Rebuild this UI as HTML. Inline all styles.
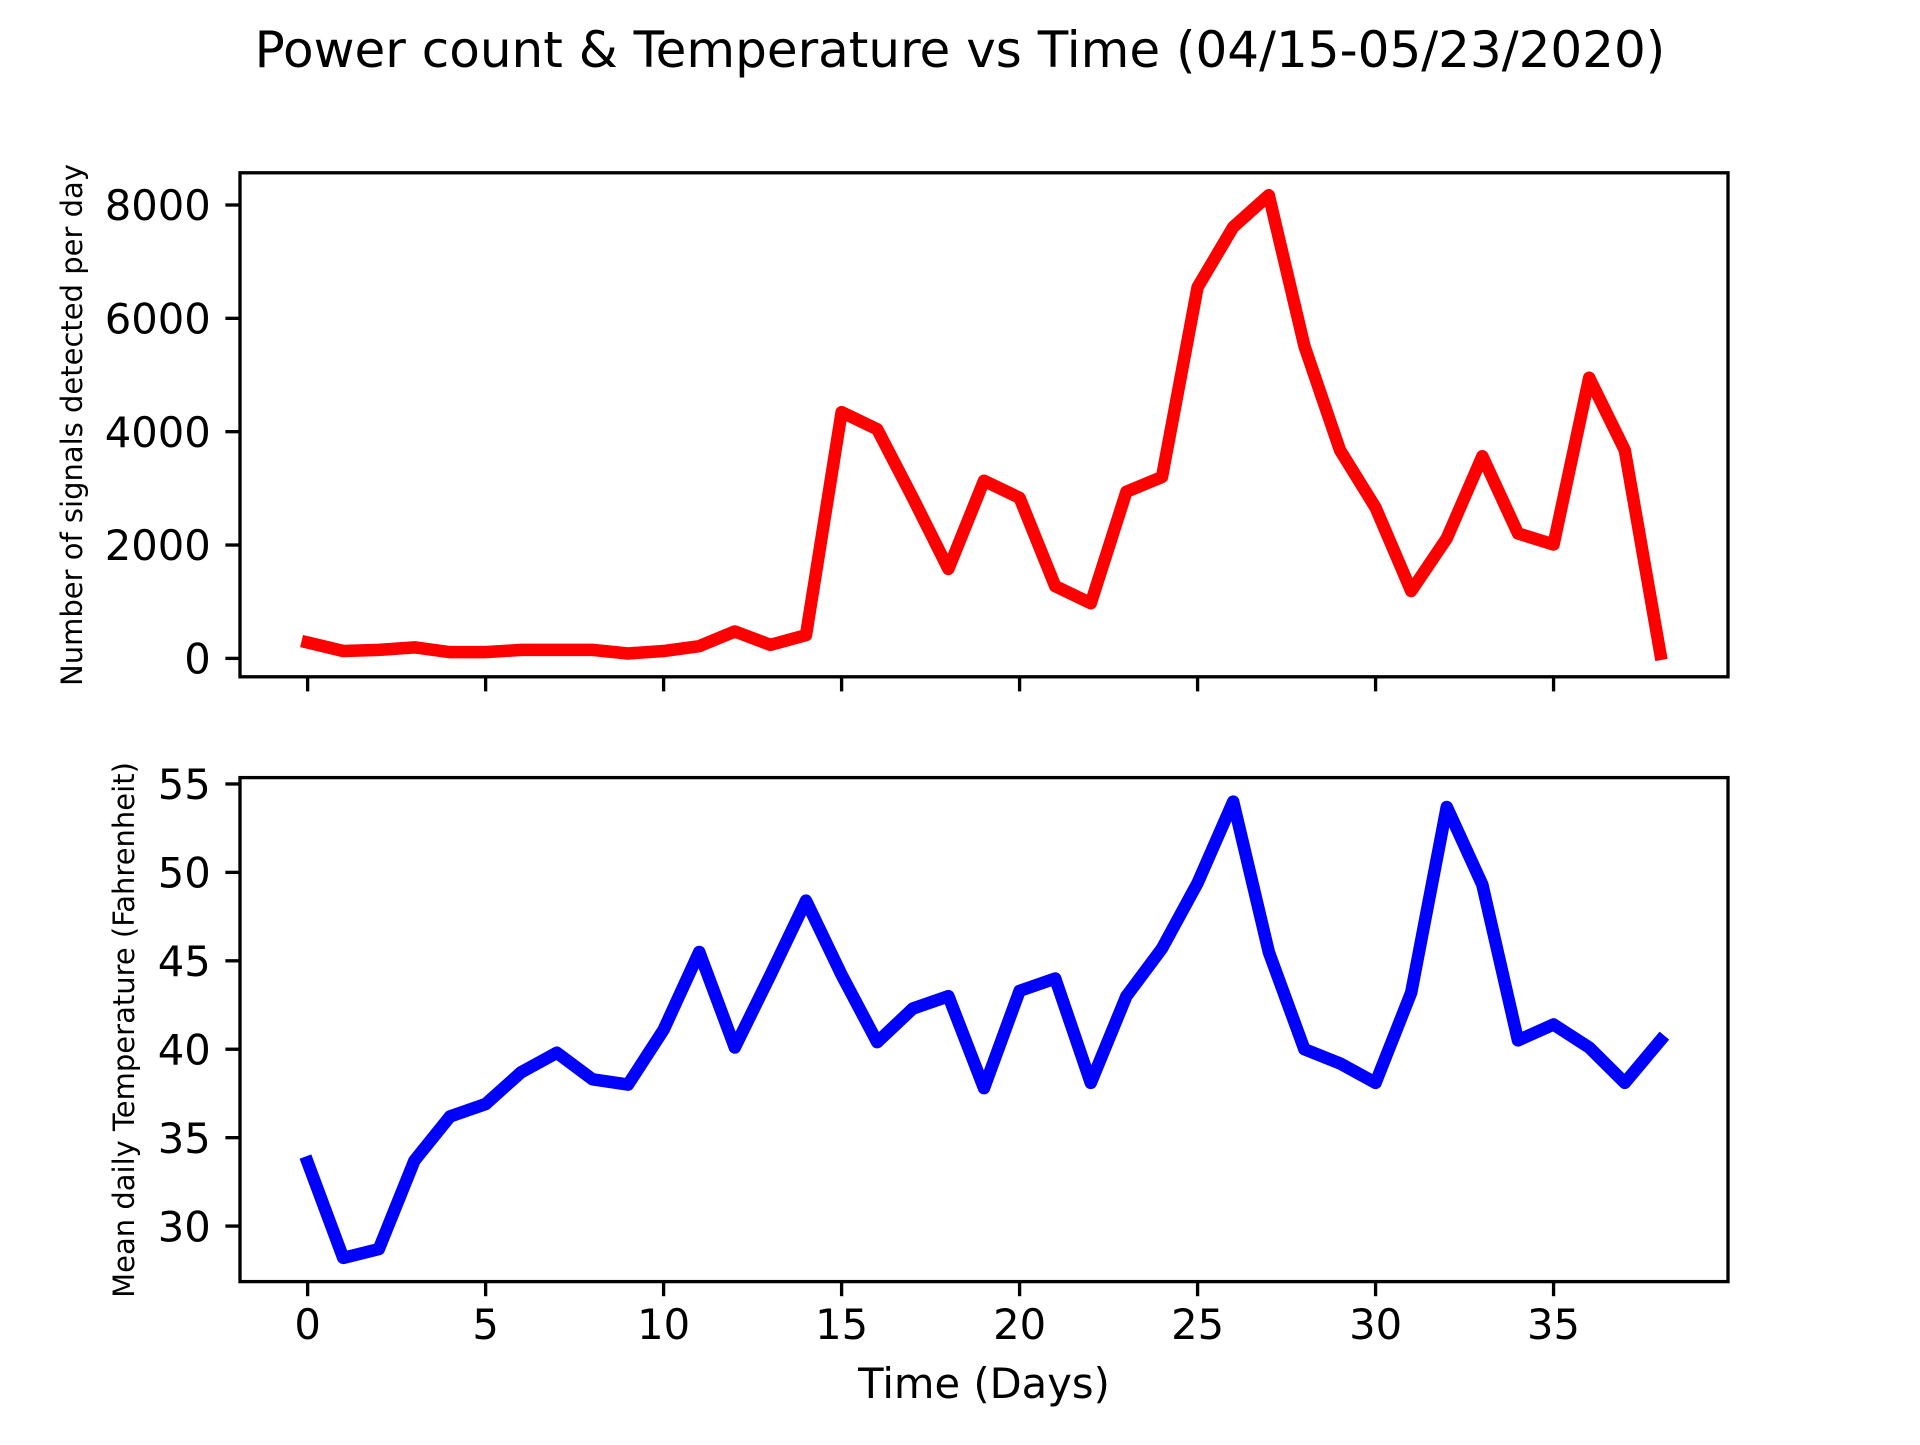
<!DOCTYPE html>
<html><head><meta charset="utf-8"><style>
html,body{margin:0;padding:0;background:#fff;}
svg text{font-family:"DejaVu Sans","Liberation Sans",sans-serif;fill:#000;}
</style></head><body>
<svg id="chart" width="1920" height="1440" viewBox="0 0 1920 1440" xmlns="http://www.w3.org/2000/svg">
<rect width="1920" height="1440" fill="#fff"/>
<text x="960" y="67" font-size="50" text-anchor="middle">Power count &amp; Temperature vs Time (04/15-05/23/2020)</text>
<g id="top"></g>
<g id="bot"></g>
<text x="0" y="0" font-size="29" text-anchor="middle" transform="translate(82,425) rotate(-90)">Number of signals detected per day</text>
<text x="0" y="0" font-size="29" text-anchor="middle" transform="translate(134,1030) rotate(-90)">Mean daily Temperature (Fahrenheit)</text>
<text x="984" y="1398" font-size="41.67" text-anchor="middle">Time (Days)</text>
</svg>
<script>
const days = [0,1,2,3,4,5,6,7,8,9,10,11,12,13,14,15,16,17,18,19,20,21,22,23,24,25,26,27,28,29,30,31,32,33,34,35,36,37,38];
const powerCounts = [280,130,150,195,110,110,150,150,150,86,130,216,475,238,410,4345,4043,2832,1578,3135,2832,1275,973,2940,3200,6550,7610,8172,5513,3675,2659,1189,2119,3567,2205,2010,4951,3675,80];
const temperatures = [33.6,28.2,28.7,33.7,36.2,36.9,38.7,39.8,38.3,38.0,41.1,45.5,40.1,44.2,48.4,44.2,40.4,42.3,43.0,37.8,43.3,44.0,38.1,43.0,45.7,49.4,54.0,45.5,40.0,39.2,38.1,43.2,53.7,49.3,40.5,41.4,40.1,38.1,40.5];
const xTicks = [0,5,10,15,20,25,30,35];
const powerTicks = [0,2000,4000,6000,8000];
const tempTicks = [30,35,40,45,50,55];

const NS = 'http://www.w3.org/2000/svg';
const L = 240, R = 1728;
function mk(tag, attrs, parent){const e=document.createElementNS(NS,tag);for(const k in attrs)e.setAttribute(k,attrs[k]);parent.appendChild(e);return e;}
const xMin = -1.9, xMax = 39.9;
function xs(v){return L + (v - xMin) / (xMax - xMin) * (R - L);}

function panel(g, top, bottom, yMin, yMax, vals, yticks, color, showXLabels, prefix){
  const ys = v => bottom - (v - yMin) / (yMax - yMin) * (bottom - top);
  const clipId = prefix + '-clip';
  const cp = mk('clipPath', {id: clipId}, g);
  mk('rect', {x: L, y: top, width: R - L, height: bottom - top}, cp);
  const d = vals.map((v, i) => (i ? 'L' : 'M') + xs(days[i]).toFixed(2) + ',' + ys(v).toFixed(2)).join(' ');
  const line = mk('path', {d: d, fill: 'none', stroke: color, 'stroke-width': 12.5, 'stroke-linejoin': 'round', 'stroke-linecap': 'square', 'clip-path': 'url(#' + clipId + ')'}, g);
  
  
  yticks.forEach(t => {
    const y = ys(t);
    const tk = mk('line', {x1: L - 14.6, x2: L, y1: y, y2: y, stroke: '#000', 'stroke-width': 3.33}, g);
    
    
    const tx = mk('text', {x: L - 29.2, y: y + 15.2, 'font-size': 41.67, 'text-anchor': 'end'}, g);
    
    
    tx.textContent = t;
  });
  xTicks.forEach(t => {
    const x = xs(t);
    const tk = mk('line', {x1: x, x2: x, y1: bottom, y2: bottom + 14.6, stroke: '#000', 'stroke-width': 3.33}, g);
    
    
    if (showXLabels) {
      const tx = mk('text', {x: x, y: 1339, 'font-size': 41.67, 'text-anchor': 'middle'}, g);
      
      
      tx.textContent = t;
    }
  });
  const frame = mk('rect', {x: L, y: top, width: R - L, height: bottom - top, fill: 'none', stroke: '#000', 'stroke-width': 3.33}, g);
  
  
}
panel(document.getElementById('top'), 172.8, 676.8, -325, 8568, powerCounts, powerTicks, '#ff0000', false, 'power');
panel(document.getElementById('bot'), 777.6, 1281.6, 26.86, 55.36, temperatures, tempTicks, '#0000ff', true, 'temperature');
</script>
</body></html>
